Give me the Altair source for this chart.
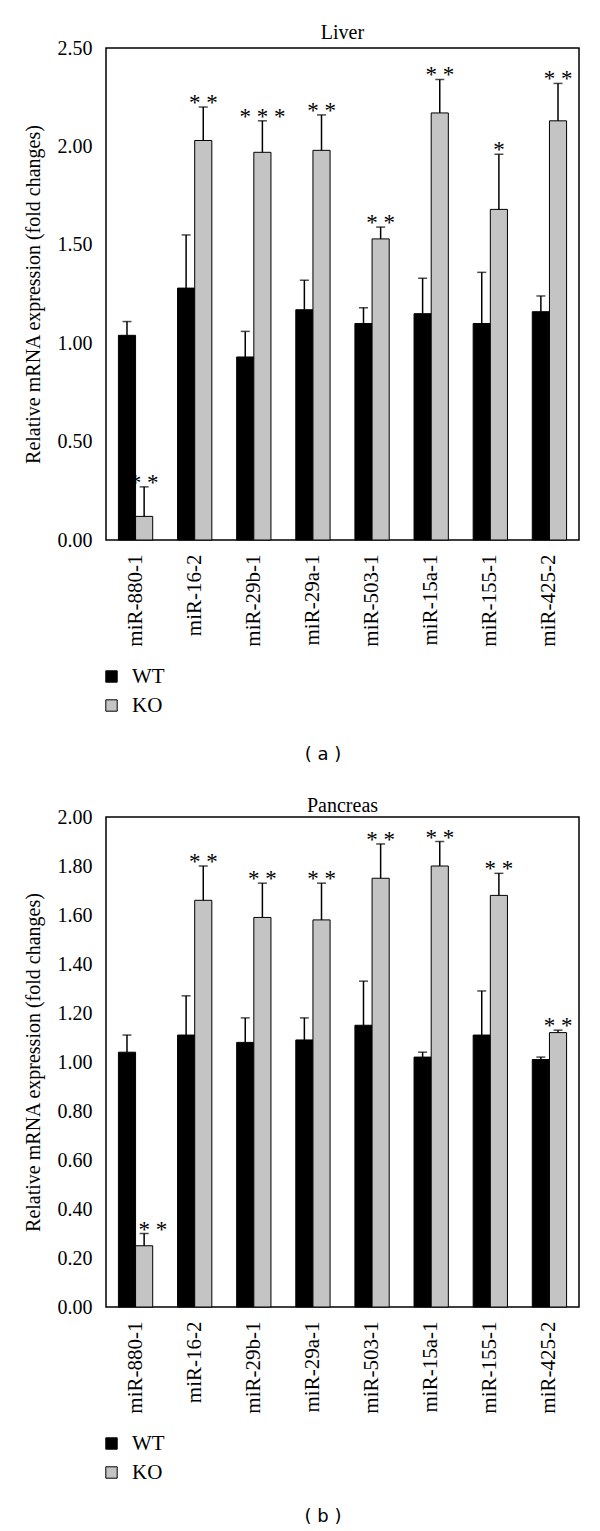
import altair as alt
import pandas as pd

SERIF = "Liberation Serif"
SANS = "DejaVu Sans"

genes = ["miR-880-1", "miR-16-2", "miR-29b-1", "miR-29a-1",
         "miR-503-1", "miR-15a-1", "miR-155-1", "miR-425-2"]
groups = ["WT", "KO"]

# Liver
liver_wt = [1.04, 1.28, 0.93, 1.17, 1.10, 1.15, 1.10, 1.16]
liver_wt_sd = [0.07, 0.27, 0.13, 0.15, 0.08, 0.18, 0.26, 0.08]
liver_ko = [0.12, 2.03, 1.97, 1.98, 1.53, 2.17, 1.68, 2.13]
liver_ko_sd = [0.15, 0.17, 0.16, 0.18, 0.06, 0.17, 0.28, 0.19]
liver_stars = ["* *", "* *", "* * *", "* *", "* *", "* *", "*", "* *"]
liver_ticks = [0.0, 0.5, 1.0, 1.5, 2.0, 2.5]

# Pancreas
panc_wt = [1.04, 1.11, 1.08, 1.09, 1.15, 1.02, 1.11, 1.01]
panc_wt_sd = [0.07, 0.16, 0.10, 0.09, 0.18, 0.02, 0.18, 0.01]
panc_ko = [0.25, 1.66, 1.59, 1.58, 1.75, 1.80, 1.68, 1.12]
panc_ko_sd = [0.05, 0.14, 0.14, 0.15, 0.14, 0.10, 0.09, 0.01]
panc_stars = ["* * *", "* *", "* *", "* *", "* *", "* *", "* *", "* *"]
panc_ticks = [0.0, 0.2, 0.4, 0.6, 0.8, 1.0, 1.2, 1.4, 1.6, 1.8, 2.0]

titles = ["Liver", "Pancreas"]
captions = ["( a )", "( b )"]
y_title = "Relative mRNA expression (fold changes)"


def make_df(wt, wt_sd, ko, ko_sd, stars):
    rows = []
    for i, g in enumerate(genes):
        rows.append(dict(gene=g, group="WT", value=wt[i], top=wt[i] + wt_sd[i], stars=""))
        rows.append(dict(gene=g, group="KO", value=ko[i], top=ko[i] + ko_sd[i], stars=stars[i]))
    return pd.DataFrame(rows)


W = 473


def panel(df, title, ymax, ticks, caption, H, cap_off, title_off):
    x = alt.X("gene:N", sort=genes,
              scale=alt.Scale(paddingInner=0.42, paddingOuter=0.21),
              axis=alt.Axis(title=None, labelAngle=-90, labelFont=SERIF, labelFontSize=21,
                            labelPadding=14, labelColor="black", domain=False, ticks=False))
    xo = alt.XOffset("group:N", sort=groups, scale=alt.Scale(paddingInner=0, paddingOuter=0))
    yaxis = alt.Axis(values=ticks, format=".2f", title=y_title, titleFont=SERIF,
                     titleFontSize=20, titleFontWeight="normal", titleColor="black",
                     titlePadding=14, labelFont=SERIF, labelFontSize=20, labelColor="black",
                     labelPadding=14, domain=False, ticks=False, grid=False)
    yscale = alt.Scale(domain=[0, ymax], nice=False)
    color = alt.Color("group:N",
                      scale=alt.Scale(domain=groups, range=["black", "#c4c4c4"]),
                      legend=alt.Legend(title=None, orient="none", legendX=-5, legendY=H + 126,
                                        direction="vertical", symbolType="square",
                                        symbolSize=130, symbolStrokeColor="black",
                                        symbolStrokeWidth=1, labelFont=SERIF,
                                        labelFontSize=21, labelColor="black",
                                        rowPadding=7, labelOffset=10))
    base = alt.Chart(df)
    bars = base.mark_bar(stroke="black", strokeWidth=1).encode(
        x=x, xOffset=xo, y=alt.Y("value:Q", scale=yscale, axis=yaxis), color=color)
    rule = base.mark_rule(color="black", strokeWidth=1.5).encode(
        x=x, xOffset=xo, y=alt.Y("value:Q", scale=yscale, axis=yaxis), y2="top:Q")
    cap = base.mark_tick(color="black", size=9, thickness=1.5).encode(
        x=x, xOffset=xo, y=alt.Y("top:Q", scale=yscale, axis=yaxis))
    star = base.mark_text(font=SERIF, fontSize=23, baseline="alphabetic", dy=3,
                          color="black").encode(
        x=x, xOffset=xo, y=alt.Y("top:Q", scale=yscale, axis=yaxis), text="stars:N")
    cap_text = alt.Chart(pd.DataFrame({"caption": [caption]})).mark_text(
        font=SANS, fontSize=18, color="black").encode(
        x=alt.value(217), y=alt.value(H + cap_off), text="caption:N")
    return alt.layer(bars, rule, cap, star, cap_text).properties(
        width=W, height=H,
        title=alt.Title(title, font=SERIF, fontSize=20, fontWeight="normal",
                        color="black", anchor="middle", offset=title_off))


liver_df = make_df(liver_wt, liver_wt_sd, liver_ko, liver_ko_sd, liver_stars)
panc_df = make_df(panc_wt, panc_wt_sd, panc_ko, panc_ko_sd, panc_stars)

chart = alt.vconcat(
    panel(liver_df, titles[0], 2.5, liver_ticks, captions[0], 492, 215, -5),
    panel(panc_df, titles[1], 2.0, panc_ticks, captions[1], 490, 210, -9),
    spacing=30,
).resolve_scale(color="independent", y="independent").properties(
    padding={"left": 14, "top": 14, "right": 5, "bottom": 0},
    background="white",
).configure_view(stroke="black", strokeWidth=1.5)

chart.save("out.html", embed_options={"renderer": "svg", "actions": False})
